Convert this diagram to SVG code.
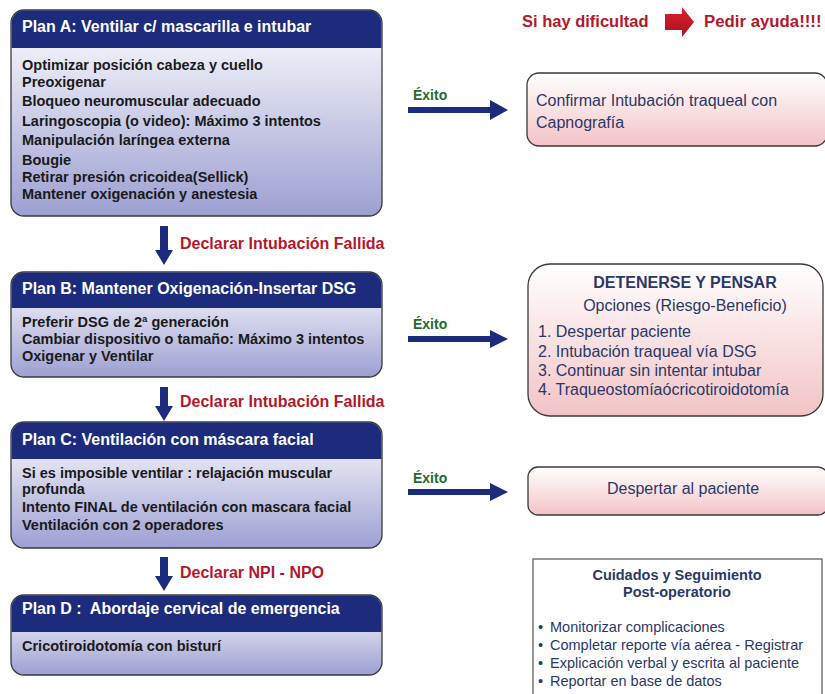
<svg xmlns="http://www.w3.org/2000/svg" width="825" height="694" viewBox="0 0 825 694">
<defs>
  <linearGradient id="gBody" x1="0" y1="0" x2="0" y2="1">
    <stop offset="0" stop-color="#ffffff"/>
    <stop offset="1" stop-color="#9d9fd2"/>
  </linearGradient>
  <linearGradient id="gPink" x1="0" y1="0" x2="0" y2="1">
    <stop offset="0" stop-color="#ffffff"/>
    <stop offset="1" stop-color="#f3c3c6"/>
  </linearGradient>
  <linearGradient id="gRed" x1="0" y1="0" x2="0" y2="1">
    <stop offset="0" stop-color="#e0202e"/>
    <stop offset="1" stop-color="#a8101e"/>
  </linearGradient>
</defs>
<style>
  .box { stroke: #3a3a3a; stroke-width: 1.3; fill: url(#gBody); }
  .hdr { fill: #1d2b7c; }
  .htxt { font-family: "Liberation Sans", Arial, sans-serif; font-weight: bold; font-size: 16px; fill: #ffffff; }
  .btxt { font-family: "Liberation Sans", Arial, sans-serif; font-weight: bold; font-size: 14.5px; fill: #1a1a1a; }
  .red { font-family: "Liberation Sans", Arial, sans-serif; font-weight: bold; font-size: 16px; fill: #b3182c; }
  .ok { font-family: "Liberation Sans", Arial, sans-serif; font-weight: bold; font-size: 14px; fill: #236b2b; }
  .pbox { stroke: #3a3a3a; stroke-width: 1.3; fill: url(#gPink); }
  .ptxt { font-family: "Liberation Sans", Arial, sans-serif; font-size: 16px; fill: #2a3868; }
  .ptb { font-family: "Liberation Sans", Arial, sans-serif; font-size: 16px; font-weight: bold; fill: #2a3868; }
  .ctxt { font-family: "Liberation Sans", Arial, sans-serif; font-size: 14.5px; fill: #2a3868; }
  .ctb { font-family: "Liberation Sans", Arial, sans-serif; font-size: 14.5px; font-weight: bold; fill: #2a3868; }
  .arr { fill: #1d2b7c; }
</style>

<g id="planA">
  <rect class="box" x="11" y="10" width="371" height="206" rx="13"/>
  <path class="hdr" d="M11.6,48 V23 A12.4,12.4 0 0 1 24,10.6 H369 A12.4,12.4 0 0 1 381.4,23 V48 Z"/>
  <text class="htxt" x="22" y="32">Plan A: Ventilar c/ mascarilla e intubar</text>
  <text class="btxt" x="22" y="70">Optimizar posición cabeza y cuello</text>
  <text class="btxt" x="22" y="87">Preoxigenar</text>
  <text class="btxt" x="22" y="106">Bloqueo neuromuscular adecuado</text>
  <text class="btxt" x="22" y="126">Laringoscopia (o video): Máximo 3 intentos</text>
  <text class="btxt" x="22" y="145">Manipulación laríngea externa</text>
  <text class="btxt" x="22" y="165">Bougie</text>
  <text class="btxt" x="22" y="182">Retirar presión cricoidea(Sellick)</text>
  <text class="btxt" x="22" y="199">Mantener oxigenación y anestesia</text>
</g>

<g id="planB">
  <rect class="box" x="11" y="272" width="371" height="105" rx="13"/>
  <path class="hdr" d="M11.6,308 V285 A12.4,12.4 0 0 1 24,272.6 H369 A12.4,12.4 0 0 1 381.4,285 V308 Z"/>
  <text class="htxt" x="22" y="294">Plan B: Mantener Oxigenación-Insertar DSG</text>
  <text class="btxt" x="22" y="327">Preferir DSG de 2ª generación</text>
  <text class="btxt" x="22" y="344">Cambiar dispositivo o tamaño: Máximo 3 intentos</text>
  <text class="btxt" x="22" y="361">Oxigenar y Ventilar</text>
</g>

<g id="planC">
  <rect class="box" x="11" y="422" width="371" height="126" rx="13"/>
  <path class="hdr" d="M11.6,459 V435 A12.4,12.4 0 0 1 24,422.6 H369 A12.4,12.4 0 0 1 381.4,435 V459 Z"/>
  <text class="htxt" x="22" y="445">Plan C: Ventilación con máscara facial</text>
  <text class="btxt" x="22" y="478">Si es imposible ventilar : relajación muscular</text>
  <text class="btxt" x="22" y="494">profunda</text>
  <text class="btxt" x="22" y="512">Intento FINAL de ventilación con mascara facial</text>
  <text class="btxt" x="22" y="530">Ventilación con 2 operadores</text>
</g>

<g id="planD">
  <rect class="box" x="11" y="595" width="371" height="80" rx="13"/>
  <path class="hdr" d="M11.6,632 V608 A12.4,12.4 0 0 1 24,595.6 H369 A12.4,12.4 0 0 1 381.4,608 V632 Z"/>
  <text class="htxt" x="22" y="614" style="white-space:pre">Plan D :  Abordaje cervical de emergencia</text>
  <text class="btxt" x="22" y="651">Cricotiroidotomía con bisturí</text>
</g>

<g id="help">
  <text class="red" x="522" y="27" style="font-size:16.5px">Si hay dificultad</text>
  <path d="M665,14 H682 V7 L694,22 L682,37 V30 H665 Z" fill="url(#gRed)"/>
  <text class="red" x="704" y="27" style="font-size:16.8px">Pedir ayuda!!!!</text>
</g>

<g id="confirmar">
  <rect class="pbox" x="527" y="73" width="300" height="73" rx="12"/>
  <text class="ptxt" x="536" y="106">Confirmar Intubación traqueal con</text>
  <text class="ptxt" x="536" y="128">Capnografía</text>
</g>

<g id="detenerse">
  <rect class="pbox" x="528" y="264" width="295" height="152" rx="22"/>
  <text class="ptb" x="685" y="288" text-anchor="middle">DETENERSE Y PENSAR</text>
  <text class="ptxt" x="685" y="311" text-anchor="middle">Opciones (Riesgo-Beneficio)</text>
  <text class="ptxt" x="538" y="337">1. Despertar paciente</text>
  <text class="ptxt" x="538" y="357">2. Intubación traqueal vía DSG</text>
  <text class="ptxt" x="538" y="376">3. Continuar sin intentar intubar</text>
  <text class="ptxt" x="538" y="395">4. Traqueostomíaócricotiroidotomía</text>
</g>

<g id="despertar">
  <rect class="pbox" x="528" y="467" width="300" height="48" rx="10"/>
  <text class="ptxt" x="683" y="494" text-anchor="middle">Despertar al paciente</text>
</g>

<g id="cuidados">
  <rect x="533" y="559" width="289" height="150" fill="#ffffff" stroke="#555555" stroke-width="1.2"/>
  <text class="ctb" x="677" y="580" text-anchor="middle">Cuidados y Seguimiento</text>
  <text class="ctb" x="677" y="597" text-anchor="middle">Post-operatorio</text>
  <text class="ctxt" x="538" y="632">•</text>
  <text class="ctxt" x="550" y="632">Monitorizar complicaciones</text>
  <text class="ctxt" x="538" y="650">•</text>
  <text class="ctxt" x="550" y="650">Completar reporte vía aérea - Registrar</text>
  <text class="ctxt" x="538" y="668">•</text>
  <text class="ctxt" x="550" y="668">Explicación verbal y escrita al paciente</text>
  <text class="ctxt" x="538" y="686">•</text>
  <text class="ctxt" x="550" y="686">Reportar en base de datos</text>
</g>

<g id="connectors">
  <path class="arr" d="M160,226 H168 V250 H173 L164,265 L155,250 H160 Z"/>
  <text class="red" x="180" y="249">Declarar Intubación Fallida</text>
  <path class="arr" d="M160,387 H168 V406 H173 L164,421 L155,406 H160 Z"/>
  <text class="red" x="180" y="407">Declarar Intubación Fallida</text>
  <path class="arr" d="M160,557 H168 V576 H173 L164,591 L155,576 H160 Z"/>
  <text class="red" x="180" y="578">Declarar NPI - NPO</text>

  <text class="ok" x="413" y="100">Éxito</text>
  <path class="arr" d="M408,107 H490 V100 L508,110 L490,120 V113 H408 Z"/>
  <text class="ok" x="413" y="329">Éxito</text>
  <path class="arr" d="M408,336 H490 V330 L508,339 L490,348 V342 H408 Z"/>
  <text class="ok" x="413" y="483">Éxito</text>
  <path class="arr" d="M408,489 H490 V483 L508,492 L490,501 V495 H408 Z"/>
</g>
</svg>
